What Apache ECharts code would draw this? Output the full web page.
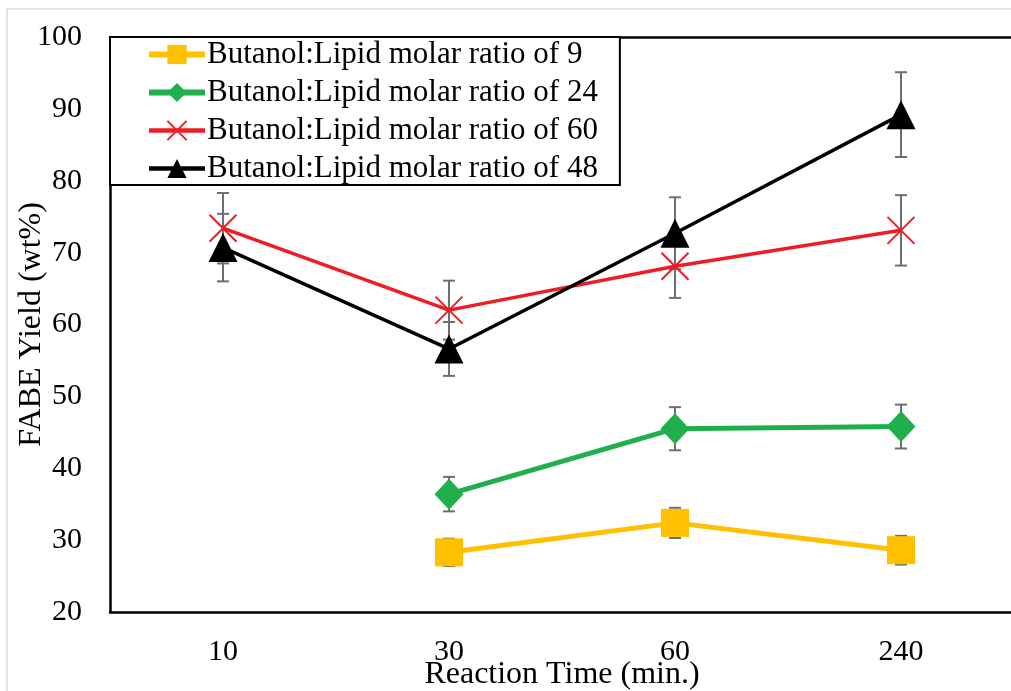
<!DOCTYPE html>
<html>
<head>
<meta charset="utf-8">
<script src="https://cdn.jsdelivr.net/npm/echarts@6/dist/echarts.min.js"></script>
<style>
html,body{margin:0;padding:0;background:#fff;}
#chart{width:1011px;height:691px;}
</style>
</head>
<body>
<div id="chart"></div>
<script>
var categories = ['10', '30', '60', '240'];
var seriesNames = [
  'Butanol:Lipid molar ratio of 9',
  'Butanol:Lipid molar ratio of 24',
  'Butanol:Lipid molar ratio of 60',
  'Butanol:Lipid molar ratio of 48'
];
var ratio9 = [null, 28.3, 32.4, 28.6];
var ratio9Err = [null, 1.9, 2.1, 2.0];
var ratio24 = [null, 36.4, 45.5, 45.8];
var ratio24Err = [null, 2.4, 3.0, 3.05];
var ratio60 = [73.4, 62.0, 68.1, 73.1];
var ratio60Err = [4.9, 4.1, 4.4, 4.9];
var ratio48 = [70.7, 56.6, 72.7, 89.2];
var ratio48Err = [4.7, 3.75, 5.0, 5.9];
var yTicks = [20, 30, 40, 50, 60, 70, 80, 90, 100];

var FONT = '"Liberation Serif", "Times New Roman", serif';

function errData(vals, errs) {
  var out = [];
  for (var i = 0; i < vals.length; i++) {
    if (vals[i] != null) out.push([i, vals[i] - errs[i], vals[i] + errs[i]]);
  }
  return out;
}

function errSeries(vals, errs) {
  return {
    type: 'custom',
    silent: true,
    z: 1,
    data: errData(vals, errs),
    renderItem: function (params, api) {
      var x = api.value(0);
      var lo = api.coord([x, api.value(1)]);
      var hi = api.coord([x, api.value(2)]);
      var w = 6;
      var st = { stroke: '#6e6e6e', lineWidth: 2 };
      return {
        type: 'group',
        children: [
          { type: 'line', shape: { x1: lo[0], y1: lo[1], x2: hi[0], y2: hi[1] }, style: st },
          { type: 'line', shape: { x1: lo[0] - w, y1: lo[1], x2: lo[0] + w, y2: lo[1] }, style: st },
          { type: 'line', shape: { x1: hi[0] - w, y1: hi[1], x2: hi[0] + w, y2: hi[1] }, style: st }
        ]
      };
    }
  };
}

var colors = ['#FFC000', '#1fb04c', '#ee1c25', '#000000'];
var lineWidths = [5, 5, 3.5, 3.5];

var chart = echarts.init(document.getElementById('chart'));
chart.setOption({
  animation: false,
  backgroundColor: '#fff',
  graphic: [{
    type: 'rect', silent: true, z: -10,
    shape: { x: 7, y: 9, width: 1200, height: 900 },
    style: { fill: 'none', stroke: '#d9d9d9', lineWidth: 1.5 }
  }],
  grid: { left: 110, right: -3, top: 37, bottom: 79, containLabel: false, outerBoundsMode: 'none' },
  legend: {
    left: 110, top: 37,
    orient: 'vertical',
    backgroundColor: '#fff',
    borderColor: '#000', borderWidth: 2,
    padding: [2, 22, 1, 36],
    itemWidth: 56, itemHeight: 24, itemGap: 7,
    textStyle: { fontFamily: FONT, fontSize: 31, color: '#000', padding: [0, 0, 0, -3] },
    data: seriesNames.map(function (n, i) {
      return { name: n, lineStyle: { width: lineWidths[i] + 1 } };
    })
  },
  xAxis: [{
    type: 'category',
    data: categories,
    boundaryGap: true,
    axisLine: { show: true, lineStyle: { color: '#000', width: 2.5 } },
    axisTick: { show: false },
    axisLabel: { fontFamily: FONT, fontSize: 30, color: '#000', margin: 25 },
    name: 'Reaction Time (min.)',
    nameLocation: 'middle',
    nameGap: 47,
    nameMoveOverlap: false,
    nameTextStyle: { fontFamily: FONT, fontSize: 32, color: '#000' }
  }, {
    type: 'category',
    position: 'top',
    data: categories,
    axisLine: { show: true, lineStyle: { color: '#000', width: 2.5 } },
    axisTick: { show: false },
    axisLabel: { show: false }
  }],
  yAxis: {
    type: 'value',
    min: yTicks[0], max: yTicks[yTicks.length - 1], interval: 10,
    axisLine: { show: true, lineStyle: { color: '#000', width: 2.5 } },
    axisTick: { show: false },
    splitLine: { show: false },
    axisLabel: { fontFamily: FONT, fontSize: 30, color: '#000', margin: 28 },
    name: 'FABE Yield (wt%)',
    nameLocation: 'middle',
    nameGap: 62,
    nameRotate: 90,
    nameMoveOverlap: false,
    nameTextStyle: { fontFamily: FONT, fontSize: 32, color: '#000' }
  },
  series: [
    errSeries(ratio9, ratio9Err),
    errSeries(ratio24, ratio24Err),
    errSeries(ratio60, ratio60Err),
    errSeries(ratio48, ratio48Err),
    {
      name: seriesNames[0], type: 'line', data: ratio9, z: 3,
      symbol: 'rect', symbolSize: 28,
      lineStyle: { color: colors[0], width: lineWidths[0] },
      itemStyle: { color: colors[0] }
    },
    {
      name: seriesNames[1], type: 'line', data: ratio24, z: 4,
      symbol: 'diamond', symbolSize: [29, 31],
      lineStyle: { color: colors[1], width: lineWidths[1] },
      itemStyle: { color: colors[1] }
    },
    {
      name: seriesNames[2], type: 'line', data: ratio60, z: 5,
      symbol: 'path://M0,0 L10,10 M10,0 L0,10', symbolSize: 27,
      lineStyle: { color: colors[2], width: lineWidths[2] },
      itemStyle: { color: 'none', borderColor: colors[2], borderWidth: 2 }
    },
    {
      name: seriesNames[3], type: 'line', data: ratio48, z: 6,
      symbol: 'triangle', symbolSize: 29,
      lineStyle: { color: colors[3], width: lineWidths[3] },
      itemStyle: { color: colors[3] }
    }
  ]
});
</script>
</body>
</html>
